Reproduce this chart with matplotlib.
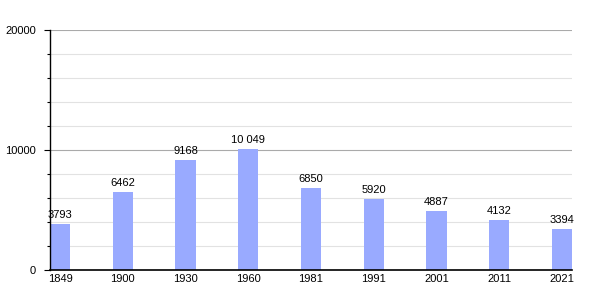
import matplotlib
matplotlib.use("Agg")
import matplotlib.pyplot as plt
from matplotlib.ticker import MultipleLocator

plt.rcParams["font.family"] = ["Liberation Sans", "DejaVu Sans"]

years = ["1849", "1900", "1930", "1960", "1981", "1991", "2001", "2011", "2021"]
population = [3793, 6462, 9168, 10049, 6850, 5920, 4887, 4132, 3394]
labels = ["3793", "6462", "9168", "10 049", "6850", "5920", "4887", "4132", "3394"]

fig = plt.figure(figsize=(6, 3), dpi=100)
ax = fig.add_axes([50/600, 30/300, 522/600, 240/300])

x = list(range(len(years)))
bars = ax.bar(x, population, width=0.32, color="#99aaff", zorder=3)
for xi, v, lab in zip(x, population, labels):
    ax.text(xi, v + 350, lab, ha="center", va="bottom", fontsize=8, color="black", zorder=4)

ax.set_xlim(-0.16, 8.16)
ax.set_ylim(0, 20000)
ax.set_xticks(x)
ax.set_xticklabels(years, fontsize=8)
ax.yaxis.set_minor_locator(MultipleLocator(2000))
ax.set_yticks([0, 10000, 20000])
ax.set_yticklabels(["0", "10000", "20000"], fontsize=8)
ax.grid(axis="y", which="minor", color="#e2e2e2", linewidth=0.8, zorder=0)
ax.grid(axis="y", which="major", color="#aaaaaa", linewidth=0.8, zorder=1)
ax.tick_params(axis="x", length=0, pad=3)
ax.tick_params(axis="y", which="major", length=4, width=0.8, pad=6)
ax.tick_params(axis="y", which="minor", length=2, width=0.8)
for s in ["top", "right"]:
    ax.spines[s].set_visible(False)
ax.spines["left"].set_linewidth(1)
ax.spines["bottom"].set_linewidth(1.2)
ax.spines["left"].set_zorder(5)
ax.spines["bottom"].set_zorder(5)

fig.savefig("out.png", dpi=100)
